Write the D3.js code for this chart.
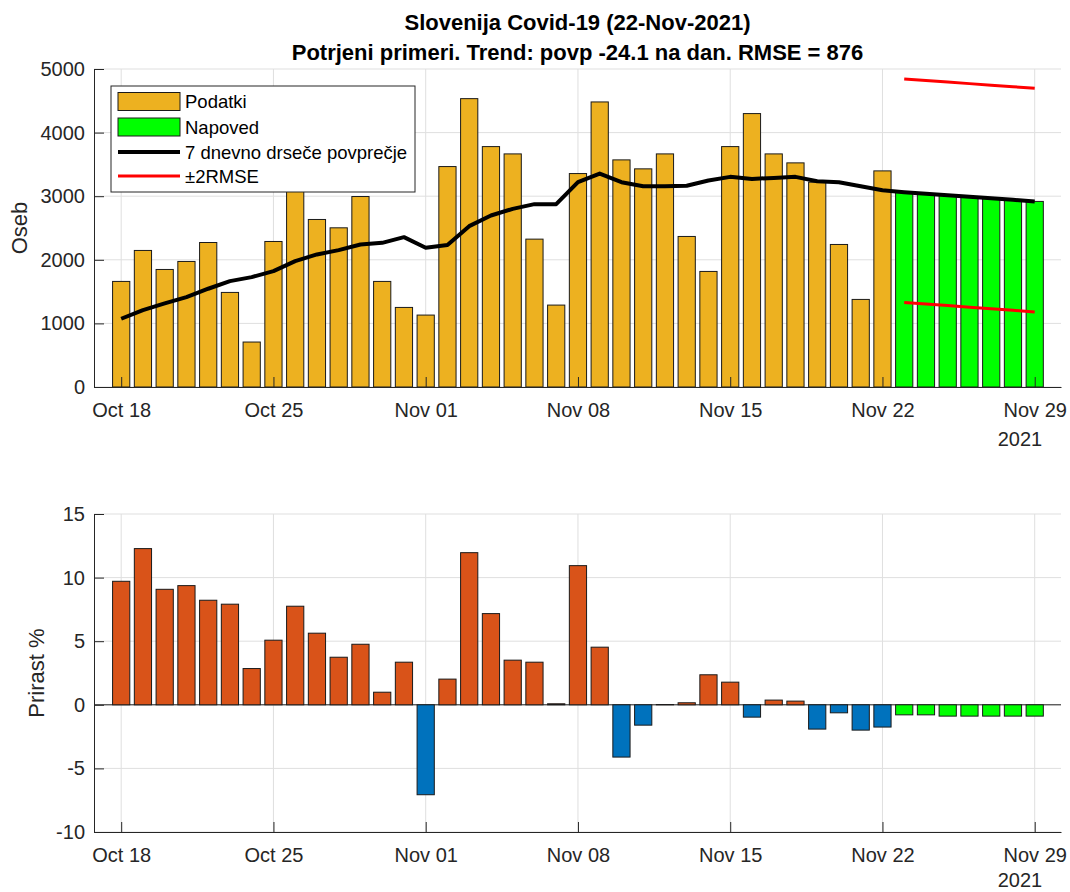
<!DOCTYPE html>
<html>
<head>
<meta charset="utf-8">
<script src="https://cdn.jsdelivr.net/npm/d3@7"></script>
<style>
  body { margin: 0; background: #fff; }
  svg { font-family: "Liberation Sans", Arial, sans-serif; }
</style>
</head>
<body>
<div id="content"></div>
<script>
// data
var startDay = "2021-10-18";
var tickDays = ["2021-10-18", "2021-10-25", "2021-11-01", "2021-11-08", "2021-11-15", "2021-11-22", "2021-11-29"];
var cases = [1660, 2147, 1848, 1974, 2272, 1487, 707, 2288, 3300, 2634, 2503, 2995, 1660, 1251,
             1131, 3466, 4534, 3780, 3665, 2325, 1288, 3356, 4482, 3571, 3430, 3665, 2367, 1817,
             3780, 4299, 3665, 3524, 3220, 2241, 1377, 3398];
var forecast = [3063, 3039, 3015, 2991, 2967, 2943, 2918];
var avg7 = [1073, 1210, 1314, 1414, 1545, 1665, 1728, 1822, 1979, 2084, 2152, 2241, 2267, 2356,
            2189, 2231, 2529, 2697, 2801, 2875, 2875, 3220, 3356, 3220, 3157, 3157, 3165, 3246,
            3304, 3272, 3288, 3304, 3236, 3220, 3157, 3094, 3063, 3039, 3015, 2991, 2967, 2943, 2918];
var upper = [4843, 4819, 4794, 4770, 4746, 4721, 4697];
var lower = [1330, 1305, 1280, 1255, 1230, 1205, 1180];
var growth = [9.71, 12.28, 9.08, 9.37, 8.22, 7.91, 2.85, 5.08, 7.75, 5.63, 3.74, 4.76, 0.99, 3.35,
              -7.07, 2.02, 11.96, 7.17, 3.51, 3.35, 0.08, 10.94, 4.53, -4.11, -1.60, 0.02, 0.16, 2.36,
              1.78, -0.97, 0.37, 0.29, -1.91, -0.63, -1.99, -1.75];
var growthForecast = [-0.79, -0.79, -0.89, -0.89, -0.89, -0.89, -0.89];
var topTicks = [0, 1000, 2000, 3000, 4000, 5000];
var bottomTicks = [-10, -5, 0, 5, 10, 15];
var legendItems = ["Podatki", "Napoved", "7 dnevno drseče povprečje", "±2RMSE"];

var yellow = '#EDB120', green = '#00FF00', orange = '#D95319', blue = '#0072BD';
var axisColor = '#262626', gridColor = '#dfdfdf';

var parse = d3.utcParse("%Y-%m-%d");
var day0 = parse(startDay);
function dayAt(i) { return d3.utcDay.offset(day0, i); }
function shift(d, h) { return d3.utcHour.offset(d, h); }

var svg = d3.select("#content").append("svg")
    .attr("width", 1070).attr("height", 892);

var left = 94, right = 1061;
var firstTick = parse(tickDays[0]), lastTick = parse(tickDays[tickDays.length - 1]);
var x = d3.scaleUtc()
    .domain([shift(firstTick, -29.8), shift(lastTick, 29.8)])
    .range([left, right]);
var barW = x(shift(day0, 19.2)) - x(shift(day0, 0));

//grid lines behind the bars
function drawGrid(g, y, yticks, top, bottom) {
    g.append("g").selectAll("line").data(tickDays).join("line")
        .attr("x1", function(d){ return x(parse(d)); }).attr("x2", function(d){ return x(parse(d)); })
        .attr("y1", top).attr("y2", bottom)
        .attr("stroke", gridColor).attr("stroke-width", 1);
    g.append("g").selectAll("line").data(yticks).join("line")
        .attr("x1", left).attr("x2", right)
        .attr("y1", function(d){ return y(d); }).attr("y2", function(d){ return y(d); })
        .attr("stroke", gridColor).attr("stroke-width", 1);
}

function drawAxes(g, y, yticks, bottom, yearY) {
    var xa = g.append("g").attr("transform", "translate(0," + bottom + ")")
        .call(d3.axisBottom(x).tickValues(tickDays.map(parse))
            .tickFormat(d3.utcFormat("%b %d")).tickSizeInner(-10).tickSizeOuter(0).tickPadding(16));
    var ya = g.append("g").attr("transform", "translate(" + left + ",0)")
        .call(d3.axisLeft(y).tickValues(yticks).tickFormat(function(d){ return String(d); })
            .tickSizeInner(-10).tickSizeOuter(0).tickPadding(9));
    [xa, ya].forEach(function(a){
        a.select(".domain").attr("stroke", axisColor);
        a.selectAll(".tick line").attr("stroke", axisColor);
        a.selectAll("text").attr("fill", axisColor).style("font-size", "20px")
            .style("font-family", '"Liberation Sans", Arial, sans-serif');
    });
    g.append("text").attr("x", 1020).attr("y", yearY).attr("text-anchor", "middle")
        .attr("fill", axisColor).style("font-size", "20px").text("2021");
}

// ---------- top chart ----------
var top1 = 69, bot1 = 387;
var y1 = d3.scaleLinear().domain([0, 5000]).range([bot1, top1]);
var g1 = svg.append("g");
drawGrid(g1, y1, topTicks, top1, bot1);

g1.append("g").selectAll("rect").data(cases).join("rect")
    .attr("x", function(d, i){ return x(dayAt(i)) - barW / 2; })
    .attr("y", function(d){ return y1(d); })
    .attr("width", barW).attr("height", function(d){ return y1(0) - y1(d); })
    .attr("fill", yellow).attr("stroke", "#1a1a1a").attr("stroke-width", 1);

g1.append("g").selectAll("rect").data(forecast).join("rect")
    .attr("x", function(d, i){ return x(dayAt(cases.length + i)) - barW / 2; })
    .attr("y", function(d){ return y1(d); })
    .attr("width", barW).attr("height", function(d){ return y1(0) - y1(d); })
    .attr("fill", green).attr("stroke", "#1a1a1a").attr("stroke-width", 1);

var line = d3.line().x(function(d){ return x(d[0]); }).y(function(d){ return y1(d[1]); });
g1.append("path").datum(avg7.map(function(v, i){ return [dayAt(i), v]; }))
    .attr("d", line).attr("fill", "none").attr("stroke", "#000")
    .attr("stroke-width", 4).attr("stroke-linejoin", "round");

[upper, lower].forEach(function(arr){
    g1.append("path").datum(arr.map(function(v, i){ return [dayAt(cases.length + i), v]; }))
        .attr("d", line).attr("fill", "none").attr("stroke", "#ff0000").attr("stroke-width", 3);
});

drawAxes(g1, y1, topTicks, bot1, 446);

// legend
var lg = g1.append("g");
lg.append("rect").attr("x", 111).attr("y", 86).attr("width", 304).attr("height", 106)
    .attr("fill", "#fff").attr("stroke", axisColor).attr("stroke-width", 1);
var rowY = [101.5, 127, 152, 176];
lg.append("rect").attr("x", 118).attr("y", rowY[0] - 9).attr("width", 62).attr("height", 18)
    .attr("fill", yellow).attr("stroke", "#1a1a1a");
lg.append("rect").attr("x", 118).attr("y", rowY[1] - 9).attr("width", 62).attr("height", 18)
    .attr("fill", green).attr("stroke", "#1a1a1a");
lg.append("line").attr("x1", 118).attr("x2", 180).attr("y1", rowY[2]).attr("y2", rowY[2])
    .attr("stroke", "#000").attr("stroke-width", 4);
lg.append("line").attr("x1", 118).attr("x2", 180).attr("y1", rowY[3]).attr("y2", rowY[3])
    .attr("stroke", "#ff0000").attr("stroke-width", 3);
lg.selectAll("text").data(legendItems).join("text")
    .attr("x", 185).attr("y", function(d, i){ return rowY[i] + 6.5; })
    .attr("fill", "#000").style("font-size", "18.5px").text(function(d){ return d; });

// titles
svg.append("text").attr("x", (left + right) / 2).attr("y", 30).attr("text-anchor", "middle")
    .style("font-size", "22px").style("font-weight", "bold").attr("fill", "#000")
    .text("Slovenija Covid-19 (22-Nov-2021)");
svg.append("text").attr("x", (left + right) / 2).attr("y", 59.5).attr("text-anchor", "middle")
    .style("font-size", "22px").style("font-weight", "bold").attr("fill", "#000")
    .text("Potrjeni primeri. Trend: povp -24.1 na dan. RMSE = 876");
svg.append("text").attr("transform", "translate(27,228) rotate(-90)").attr("text-anchor", "middle")
    .style("font-size", "22px").attr("fill", axisColor).text("Oseb");

// ---------- bottom chart ----------
var top2 = 514, bot2 = 832;
var y2 = d3.scaleLinear().domain([-10, 15]).range([bot2, top2]);
var g2 = svg.append("g");
drawGrid(g2, y2, bottomTicks, top2, bot2);

g2.append("line").attr("x1", left).attr("x2", right).attr("y1", y2(0)).attr("y2", y2(0))
    .attr("stroke", axisColor).attr("stroke-width", 1);

g2.append("g").selectAll("rect").data(growth).join("rect")
    .attr("x", function(d, i){ return x(dayAt(i)) - barW / 2; })
    .attr("y", function(d){ return y2(Math.max(d, 0)); })
    .attr("width", barW).attr("height", function(d){ return Math.abs(y2(d) - y2(0)); })
    .attr("fill", function(d){ return d >= 0 ? orange : blue; })
    .attr("stroke", "#1a1a1a").attr("stroke-width", 1);

g2.append("g").selectAll("rect").data(growthForecast).join("rect")
    .attr("x", function(d, i){ return x(dayAt(growth.length + i)) - barW / 2; })
    .attr("y", function(d){ return y2(Math.max(d, 0)); })
    .attr("width", barW).attr("height", function(d){ return Math.abs(y2(d) - y2(0)); })
    .attr("fill", green).attr("stroke", "#1a1a1a").attr("stroke-width", 1);

drawAxes(g2, y2, bottomTicks, bot2, 887);

svg.append("text").attr("transform", "translate(44,673) rotate(-90)").attr("text-anchor", "middle")
    .style("font-size", "22px").attr("fill", axisColor).text("Prirast %");
</script>
</body>
</html>
